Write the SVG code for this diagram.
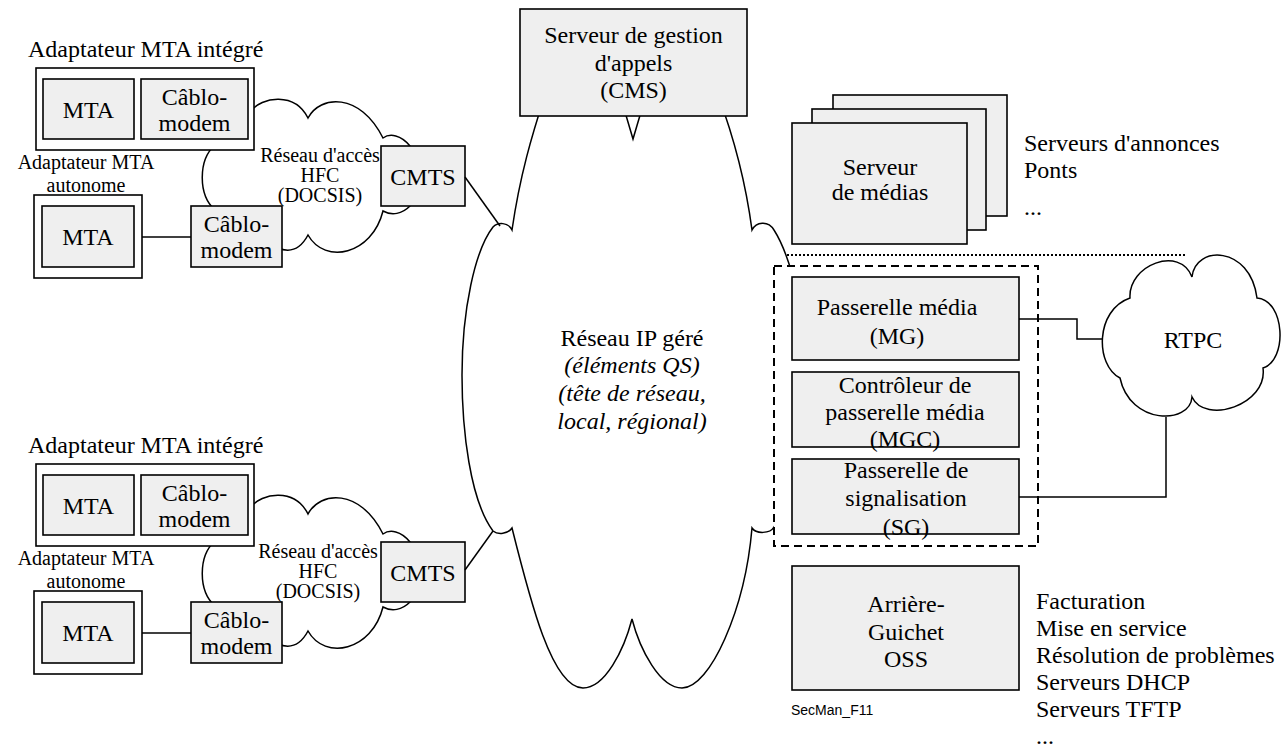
<svg xmlns="http://www.w3.org/2000/svg" width="1288" height="749" viewBox="0 0 1288 749">
<style>
text{font-family:"Liberation Serif","Times New Roman",serif;font-size:24px;fill:#000}
.m{text-anchor:middle}
.s20{font-size:20px}
.s21{font-size:20px}
.box{fill:#efefef;stroke:#000;stroke-width:1.6}
.wbox{fill:#fff;stroke:#000;stroke-width:1.6}
.cloud{fill:#fff;stroke:#000;stroke-width:1.5}
.ln{fill:none;stroke:#000;stroke-width:1.5}
</style>
<rect width="1288" height="749" fill="#fff"/>

<g id="ip-network">
<path class="cloud" d="M 512 230 C 520 175, 532 135, 545 95 L 620 95 L 633 139 L 646 95 L 718 95 C 733 135, 746 185, 752 230 C 756 222, 768 220, 774 230 C 790 255, 808 320, 808 390 C 808 450, 795 500, 774 527 C 770 534, 756 534, 752 528 C 745 610, 710 688, 682 688 C 660 688, 640 650, 632 619 C 624 650, 605 688, 583 688 C 552 688, 530 600, 512 528 C 508 534, 498 535, 493 531 C 470 500, 462 430, 462 375 C 462 310, 475 250, 493 227 C 498 222, 508 222, 512 230 Z"/>
<text class="m" x="632" y="346">Réseau IP géré</text>
<text class="m" x="632" y="373" font-style="italic">(éléments QS)</text>
<text class="m" x="632" y="401" font-style="italic">(tête de réseau,</text>
<text class="m" x="632" y="429" font-style="italic">local, régional)</text>
</g>

<g id="hfc-top">
<path class="cloud" d="M 250 112 C 262 96, 295 92, 308 118 C 320 95, 360 92, 383 138 C 390 133, 401 135, 410 146 L 410 206 C 402 214, 392 216, 383 211 C 372 255, 325 265, 308 235 C 300 250, 290 253, 278 248 L 215 210 C 198 195, 198 160, 215 145 Z"/>
<text class="m s20" x="320" y="162">Réseau d'accès</text>
<text class="m s20" x="320" y="182">HFC</text>
<text class="m s20" x="320" y="202">(DOCSIS)</text>
</g>

<g id="hfc-bottom">
<path class="cloud" d="M 250 508 C 262 492, 295 488, 308 514 C 320 491, 360 488, 383 534 C 390 529, 401 531, 410 542 L 410 602 C 402 610, 392 612, 383 607 C 372 651, 325 661, 308 631 C 300 646, 290 649, 278 644 L 215 606 C 198 591, 198 556, 215 541 Z"/>
<text class="m s20" x="318" y="558">Réseau d'accès</text>
<text class="m s20" x="318" y="578">HFC</text>
<text class="m s20" x="318" y="598">(DOCSIS)</text>
</g>

<g id="rtpc">
<path class="cloud" d="M 1120 378 C 1095 365, 1095 310, 1130 298 C 1128 265, 1180 245, 1192 277 C 1195 245, 1250 245, 1257 298 C 1285 300, 1288 360, 1263 368 C 1268 405, 1205 425, 1192 397 C 1190 425, 1130 425, 1120 378 Z"/>
<text class="m" x="1193" y="348">RTPC</text>
</g>

<g id="emta-top">
<text x="28" y="57">Adaptateur MTA intégré</text>
<rect class="wbox" x="36" y="68" width="218" height="82"/>
<rect class="box" x="43" y="79" width="91" height="60"/>
<text class="m" x="88.5" y="118">MTA</text>
<rect class="box" x="141" y="79" width="107" height="60"/>
<text class="m" x="194.5" y="105">Câblo-</text>
<text class="m" x="194.5" y="131">modem</text>
</g>

<g id="standalone-top">
<text class="m s21" x="86" y="169">Adaptateur MTA</text>
<text class="m s21" x="86" y="192">autonome</text>
<rect class="wbox" x="34" y="195" width="108" height="83"/>
<rect class="box" x="42" y="206" width="92" height="61"/>
<text class="m" x="88" y="245">MTA</text>
</g>

<g id="cm-top">
<rect class="box" x="191" y="206" width="91" height="61"/>
<text class="m" x="236.5" y="232">Câblo-</text>
<text class="m" x="236.5" y="258">modem</text>
</g>

<g id="cmts-top">
<rect class="box" x="381" y="146" width="84" height="60"/>
<text class="m" x="423" y="185">CMTS</text>
</g>

<g id="emta-bottom">
<text x="28" y="453">Adaptateur MTA intégré</text>
<rect class="wbox" x="36" y="464" width="218" height="82"/>
<rect class="box" x="43" y="475" width="91" height="60"/>
<text class="m" x="88.5" y="514">MTA</text>
<rect class="box" x="141" y="475" width="107" height="60"/>
<text class="m" x="194.5" y="501">Câblo-</text>
<text class="m" x="194.5" y="527">modem</text>
</g>

<g id="standalone-bottom">
<text class="m s21" x="86" y="565">Adaptateur MTA</text>
<text class="m s21" x="86" y="588">autonome</text>
<rect class="wbox" x="34" y="591" width="108" height="83"/>
<rect class="box" x="42" y="602" width="92" height="61"/>
<text class="m" x="88" y="641">MTA</text>
</g>

<g id="cm-bottom">
<rect class="box" x="191" y="602" width="91" height="61"/>
<text class="m" x="236.5" y="628">Câblo-</text>
<text class="m" x="236.5" y="654">modem</text>
</g>

<g id="cmts-bottom">
<rect class="box" x="381" y="542" width="84" height="60"/>
<text class="m" x="423" y="581">CMTS</text>
</g>

<g id="cms">
<rect class="box" x="520" y="9" width="227" height="107"/>
<text class="m" x="633.5" y="43">Serveur de gestion</text>
<text class="m" x="633.5" y="71">d'appels</text>
<text class="m" x="633.5" y="98">(CMS)</text>
</g>

<g id="media-servers">
<rect class="box" x="833" y="95" width="174" height="121"/>
<rect class="box" x="812" y="109" width="174" height="121"/>
<rect class="box" x="792" y="123" width="175" height="121"/>
<text class="m" x="880" y="175">Serveur</text>
<text class="m" x="880" y="200">de médias</text>
</g>

<g id="media-notes">
<text x="1024" y="151">Serveurs d'annonces</text>
<text x="1024" y="178">Ponts</text>
<text x="1024" y="215">...</text>
</g>

<g id="separator">
<line x1="787" y1="255" x2="1185" y2="255" stroke="#000" stroke-width="2" stroke-dasharray="2 2"/>
</g>

<g id="gateway-group">
<rect x="774" y="266" width="264" height="280" fill="#fff" stroke="#000" stroke-width="2" stroke-dasharray="8 5"/>
</g>

<g id="mg">
<rect class="box" x="792" y="277" width="227" height="83"/>
<text class="m" x="897" y="315">Passerelle média</text>
<text class="m" x="897" y="344">(MG)</text>
</g>

<g id="mgc">
<rect class="box" x="792" y="372" width="227" height="75"/>
<text class="m" x="905" y="393">Contrôleur de</text>
<text class="m" x="905" y="420">passerelle média</text>
<text class="m" x="905" y="447">(MGC)</text>
</g>

<g id="sg">
<rect class="box" x="792" y="459" width="227" height="75"/>
<text class="m" x="906" y="478">Passerelle de</text>
<text class="m" x="906" y="506">signalisation</text>
<text class="m" x="906" y="535">(SG)</text>
</g>

<g id="oss">
<rect class="box" x="792" y="566" width="227" height="124"/>
<text class="m" x="906" y="612">Arrière-</text>
<text class="m" x="906" y="640">Guichet</text>
<text class="m" x="906" y="667">OSS</text>
</g>

<g id="oss-notes">
<text x="1036" y="609">Facturation</text>
<text x="1036" y="636">Mise en service</text>
<text x="1036" y="663">Résolution de problèmes</text>
<text x="1036" y="690">Serveurs DHCP</text>
<text x="1036" y="717">Serveurs TFTP</text>
<text x="1036" y="744">...</text>
</g>

<g id="figure-id">
<text x="791" y="715" style="font-family:'Liberation Sans',Arial,sans-serif;font-size:14px">SecMan_F11</text>
</g>

<g id="connectors">
<line class="ln" x1="142" y1="237" x2="191" y2="237" stroke-width="2.2"/>
<line class="ln" x1="142" y1="633" x2="191" y2="633" stroke-width="2.2"/>
<line class="ln" x1="465" y1="177" x2="500" y2="226"/>
<line class="ln" x1="465" y1="570" x2="493" y2="531"/>
<polyline class="ln" points="1019,319 1077,319 1077,339 1102,339"/>
<polyline class="ln" points="1019,497 1166,497 1166,417"/>
</g>
</svg>
